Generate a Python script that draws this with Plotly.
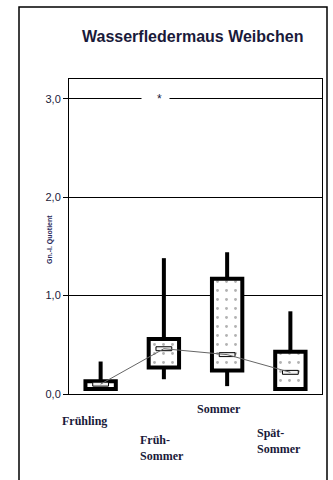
import plotly.graph_objects as go

# Gn.-I. quotient of female Daubenton's bats per season (box summary)
seasons = ["Frühling", "Früh-Sommer", "Sommer", "Spät-Sommer"]
season_labels = ["Frühling", "Früh-<br>Sommer", "Sommer", "Spät-<br>Sommer"]
q1 = [0.05, 0.27, 0.24, 0.05]
q3 = [0.13, 0.56, 1.17, 0.43]
median = [0.10, 0.46, 0.40, 0.22]
low = [0.05, 0.15, 0.08, 0.05]
high = [0.33, 1.38, 1.44, 0.84]
y_ticks = [0, 1, 2, 3]
y_ticktext = ["0,0", "1,0", "2,0", "3,0"]

W, H = 333, 480
L, R, T, B = 69, 11, 79, 86
pw, ph = W - L - R, H - T - B

ink = "#1a1a3a"
sans = "Liberation Sans, Arial, sans-serif"
serif = "Liberation Serif, Times New Roman, serif"

fig = go.Figure()

# whiskers (segments outside the boxes only)
wx, wy = [], []
for s, a, b, lo, hi in zip(seasons, q1, q3, low, high):
    wx += [s, s, None]
    wy += [b, hi, None]
    if lo < a:
        wx += [s, s, None]
        wy += [lo, a, None]
fig.add_trace(go.Scatter(x=wx, y=wy, mode="lines",
                         line=dict(color="black", width=4),
                         hoverinfo="skip", showlegend=False))

# boxes: interquartile range with stippled fill
fig.add_trace(go.Bar(
    x=seasons, base=q1, y=[b - a for a, b in zip(q1, q3)], width=0.48,
    marker=dict(color="white", line=dict(color="black", width=4),
                pattern=dict(shape=".", fgcolor="#666666", bgcolor="white",
                             size=9, solidity=0.08)),
    showlegend=False))

# median markers
mh = 0.04
fig.add_trace(go.Bar(
    x=seasons, base=[m - mh / 2 for m in median], y=[mh] * len(median), width=0.25,
    marker=dict(color="#f2f2f2", line=dict(color="black", width=1)),
    showlegend=False))

# line joining the medians
fig.add_trace(go.Scatter(x=seasons, y=median, mode="lines",
                         line=dict(color="#666666", width=1),
                         hoverinfo="skip", showlegend=False))

annotations = []
# significance mark on the 3,0 line
annotations.append(dict(x=0.8676, y=3.0, xref="x", yref="y", text=" ",
                        showarrow=False, bgcolor="white", width=27, height=6,
                        borderpad=0, font=dict(size=4)))
annotations.append(dict(x=0.923, y=3.0, xref="x", yref="y", text="*",
                        showarrow=False, font=dict(family=sans, size=12, color=ink)))

# season labels below the axis
label_pos = [(60, 421), (138, 447.5), (195, 409), (255, 441)]
for txt, (px, py) in zip(season_labels, label_pos):
    annotations.append(dict(
        x=(px - L) / pw, y=(H - B - py) / ph, xref="paper", yref="paper",
        text="<b>" + txt.replace("<br>", "</b><br><b>") + "</b>",
        showarrow=False, xanchor="left", yanchor="middle", align="left",
        font=dict(family=serif, size=12, color=ink)))

# title
annotations.append(dict(
    x=(192.5 - L) / pw, y=(H - B - 36) / ph, xref="paper", yref="paper",
    text="<b>Wasserfledermaus Weibchen</b>", showarrow=False,
    xanchor="center", yanchor="middle",
    font=dict(family=sans, size=16, color=ink)))

# y-axis caption
annotations.append(dict(
    x=(50 - L) / pw, y=(H - B - 240) / ph, xref="paper", yref="paper",
    text="<b>Gn.-I. Quotient</b>", showarrow=False, textangle=-90,
    xanchor="center", yanchor="middle",
    font=dict(family=sans, size=7, color="#2a2a5a")))

shapes = [dict(type="rect", xref="paper", yref="paper",
               x0=(19 - L) / pw, x1=(327 - L) / pw,
               y0=(H - B - 485) / ph, y1=(H - B - 7) / ph,
               line=dict(color="black", width=1.5), layer="below")]

fig.update_layout(
    width=W, height=H, margin=dict(l=L, r=R, t=T, b=B),
    paper_bgcolor="white", plot_bgcolor="white",
    barmode="overlay", showlegend=False,
    annotations=annotations, shapes=shapes,
    xaxis=dict(categoryorder="array", categoryarray=seasons,
               range=[-0.5, 3.5], showticklabels=False, ticks="",
               showgrid=False, zeroline=False, showline=True, mirror=True,
               linecolor="black", linewidth=1),
    yaxis=dict(range=[0, 3.2], tickvals=y_ticks, ticktext=y_ticktext,
               ticks="outside", ticklen=5, tickcolor="black", tickwidth=1,
               showgrid=True, gridcolor="black", gridwidth=1, zeroline=False,
               showline=True, mirror=True, linecolor="black", linewidth=1,
               tickfont=dict(family=sans, size=11, color=ink)),
)

fig.write_html("out.html")
